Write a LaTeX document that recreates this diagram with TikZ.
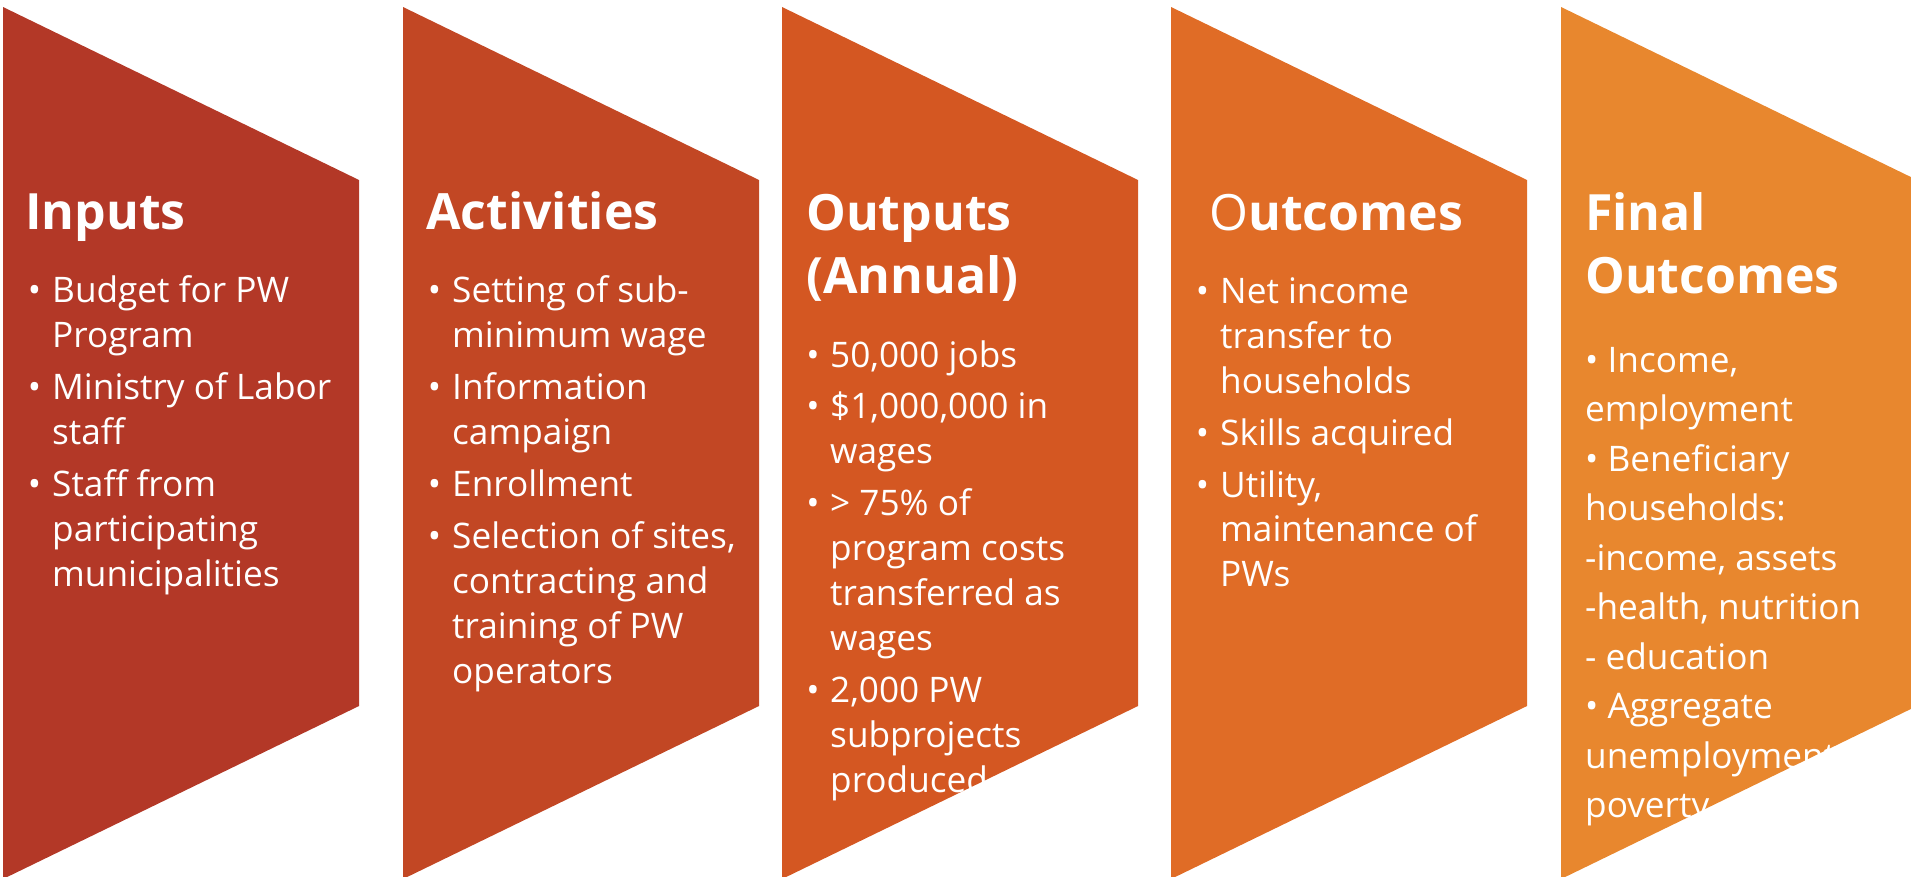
\documentclass[tikz,border=0pt]{standalone}
\usepackage{fontspec}
\setmainfont{Open Sans}
\definecolor{pA}{HTML}{B33827}
\definecolor{pB}{HTML}{C24724}
\definecolor{pC}{HTML}{D45722}
\definecolor{pD}{HTML}{E06C26}
\definecolor{pE}{HTML}{E8872E}
\begin{document}
\begin{tikzpicture}[x=1pt,y=-1pt,
  panel at/.style={insert path={(#1,7) -- ({#1+356},180) -- ({#1+356},706) -- (#1,879) -- cycle}},
  head/.style={anchor=base west, inner sep=0pt, text=white,
    font=\fontsize{50}{60}\selectfont\bfseries},
  body/.style={anchor=base west, inner sep=0pt, text=white,
    font=\fontsize{35.2}{40}\selectfont},
  dot/.style={anchor=base, inner sep=0pt, text=white,
    font=\fontsize{35.2}{40}\selectfont},
]
\useasboundingbox (0,0) rectangle (1911,876);

% ---- Inputs ----
\fill[pA, panel at=3];
\begin{scope}
  \clip[panel at=3];
  \node[head] (t1) at (25,229) {Inputs};
  \foreach \y [count=\i] in {302,399,496}
    \node[dot, name=b1\i] at (34.5,\y) {•};
  \foreach \t/\y [count=\i] in {{Budget for PW}/302, Program/347,
      {Ministry of Labor}/399, staff/444, {Staff from}/496,
      participating/541, municipalities/586}
    \node[body, name=l1\i] at (52,\y) {\t};
\end{scope}

% ---- Activities ----
\fill[pB, panel at=403];
\begin{scope}
  \clip[panel at=403];
  \node[head] (t2) at (426,229) {Activities};
  \foreach \y [count=\i] in {302,399,496,548}
    \node[dot, name=b2\i] at (434.5,\y) {•};
  \foreach \t/\y [count=\i] in {{Setting of sub-}/302, {minimum wage}/347,
      Information/399, campaign/444, Enrollment/496,
      {Selection of sites,}/548, {contracting and}/593,
      {training of PW}/638, operators/683}
    \node[body, name=l2\i] at (452,\y) {\t};
\end{scope}

% ---- Outputs ----
\fill[pC, panel at=782];
\begin{scope}
  \clip[panel at=782];
  \node[head] (t3a) at (806,230) {Outputs};
  \node[head] (t3b) at (806,293) {(Annual)};
  \foreach \y [count=\i] in {367,418,515,702}
    \node[dot, name=b3\i] at (813,\y) {•};
  \foreach \t/\y [count=\i] in {{50,000 jobs}/367, {\$1,000,000 in}/418,
      wages/463, {> 75\% of}/515, {program costs}/560,
      {transferred as}/605, wages/650, {2,000 PW}/702,
      subprojects/747, produced/792}
    \node[body, name=l3\i] at (830,\y) {\t};
\end{scope}

% ---- Outcomes ----
\fill[pD, panel at=1171];
\begin{scope}
  \clip[panel at=1171];
  \node[head] (t4) at (1209,230) {{\mdseries O}utcomes};
  \foreach \y [count=\i] in {303,445,497}
    \node[dot, name=b4\i] at (1202.5,\y) {•};
  \foreach \t/\y [count=\i] in {{Net income}/303, {transfer to}/348,
      households/393, {Skills acquired}/445, {Utility,}/497,
      {maintenance of}/541, PWs/586}
    \node[body, name=l4\i] at (1220,\y) {\t};
\end{scope}

% ---- Final Outcomes ----
\fill[pE, panel at=1561];
\begin{scope}
  \clip[panel at=1561];
  \node[head] (t5a) at (1585,230) {Final};
  \node[head] (t5b) at (1585,293) {Outcomes};
  \foreach \t/\y [count=\i] in {{• Income,}/372, employment/421.5,
      {• Beneficiary}/471, households:/520.5, {-income, assets}/570,
      {-health, nutrition}/619.5, {- education}/669, {• Aggregate}/718.5,
      unemployment/768, poverty/817.5}
    \node[body, name=l5\i] at (1585,\y) {\t};
\end{scope}
\end{tikzpicture}
\end{document}
